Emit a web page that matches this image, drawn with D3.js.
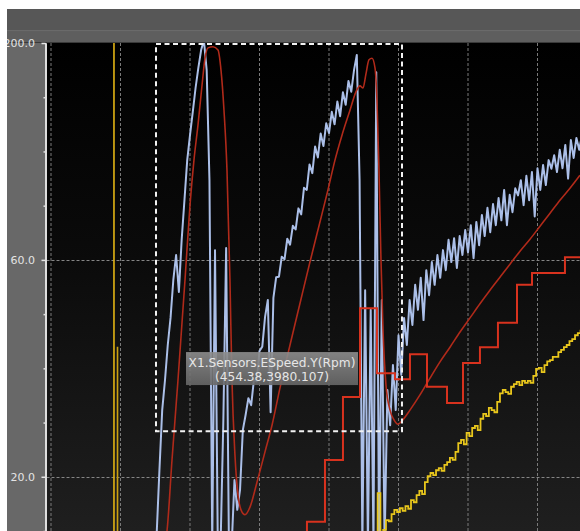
<!DOCTYPE html>
<html>
<head>
<meta charset="utf-8">
<script src="https://cdn.jsdelivr.net/npm/d3@7"></script>
<style>
  html, body { margin: 0; padding: 0; background: #ffffff; overflow: hidden; }
  svg { display: block; }
</style>
</head>
<body>
<svg id="chart" width="580" height="531"></svg>
<script>
// ---- logged channels -------------------------------------------------------
// Channels sampled on a fixed clock (time units per sample)
const sampleStep = 4;
const speedStart = 148;   // first sample time of the engine speed channel
const pedalStart = 466;   // first sample time of the pedal channel

// X1.Sensors.ESpeed.Y (light blue, noisy)
const speedValues = [
  107.4, 109.3, 121.2, 132.3, 137.8, 144.3, 149.3, 156.3, 160.9, 154.1,
  163.7, 171.0, 178.4, 183.0, 187.3, 191.7, 195.4, 198.7, 200.5, 195.0,
  174.7, 107.4, 161.8, 107.4, 107.4, 130.5, 162.2, 107.4, 107.4, 119.4,
  113.9, 117.6, 128.6, 131.4, 134.5, 133.2, 137.9, 137.6, 143.2, 144.0,
  149.5, 152.6, 131.9, 153.0, 156.8, 156.9, 160.6, 160.1, 163.9, 162.8,
  166.3, 165.6, 169.5, 168.4, 173.3, 172.9, 177.6, 176.0, 180.9, 178.9,
  183.3, 181.0, 185.2, 183.4, 187.3, 185.0, 189.2, 186.5, 190.9, 188.6,
  193.0, 191.0, 195.0, 197.8, 174.7, 107.4, 154.4, 107.4, 150.8, 107.4,
  194.6, 107.4, 152.6, 107.4, 136.0, 129.5, 140.6, 132.3, 146.1, 138.8,
  149.3, 144.3, 152.6, 148.0, 155.4, 150.8, 156.7, 148.9, 158.1, 153.5,
  159.6, 155.4, 160.9, 156.7, 161.8, 158.1, 163.7, 159.6, 164.0, 158.5,
  164.4, 160.9, 165.5, 161.4, 166.4, 160.3, 167.0, 162.7, 168.3, 164.4,
  169.6, 165.1, 170.3, 166.4, 171.4, 167.3, 172.9, 166.4, 172.0, 168.8,
  173.2, 171.9, 174.7, 170.1, 175.5, 171.0, 176.2, 168.0, 176.9, 172.9,
  177.5, 173.8, 178.4, 176.8, 179.3, 176.2, 180.3, 176.9, 181.2, 175.0,
  182.1, 178.8, 182.5, 180.3, 183.0
];

// Pedal channel (yellow staircase)
const pedalValues = [
  107.4, 117.0, 107.4, 110.2, 112.0, 111.8, 113.1, 113.9, 113.5, 114.2,
  113.7, 114.6, 114.1, 115.7, 115.3, 116.6, 117.4, 116.8, 119.0, 120.1,
  120.7, 120.3, 121.2, 121.6, 121.1, 122.2, 122.7, 123.5, 123.1, 124.6,
  126.2, 126.8, 126.0, 128.1, 127.5, 129.0, 129.4, 128.6, 130.7, 131.6,
  131.2, 132.7, 132.3, 131.9, 133.8, 135.4, 136.0, 135.6, 135.3, 136.6,
  137.1, 137.5, 136.9, 137.7, 137.3, 137.7, 137.3, 138.6, 139.9, 140.1,
  139.3, 140.6, 141.3, 141.5, 142.1, 142.1, 143.0, 143.4, 143.9, 144.3,
  145.0, 145.4, 146.1, 146.5, 147.1
];

// Filtered engine model (dark red smooth curve)
const modelTimes = [
  164.0, 166.9, 174.1, 182.7, 192.8, 200.0, 205.7, 211.5, 217.3, 221.6,
  225.9, 233.1, 240.3, 244.6, 248.9, 253.2, 257.5, 260.4, 264.7, 269.1,
  273.4, 279.1, 286.3, 296.4, 307.9, 318.0, 329.5, 343.9, 358.3, 372.6,
  387.0, 398.5, 408.6, 418.7, 430.2, 438.8, 444.6, 448.9, 453.2, 457.5,
  461.9, 466.2, 469.0, 471.9, 474.8, 477.7, 482.0, 487.8, 493.5, 499.3,
  505.0, 516.5, 530.9, 545.3, 559.7, 574.1, 588.5, 602.9, 617.2, 631.6,
  646.0, 660.4, 674.8, 689.2, 703.6, 718.0, 732.3, 746.7, 761.1
];
const modelValues = [
  107.4, 110.0, 123.1, 137.8, 156.3, 170.1, 178.4, 184.9, 192.2, 197.2,
  199.1, 199.3, 198.7, 195.0, 187.6, 176.6, 156.3, 137.8, 124.0, 116.6,
  113.9, 113.0, 114.4, 119.0, 124.6, 129.5, 136.4, 144.3, 152.0, 159.6,
  167.0, 172.9, 178.4, 183.0, 187.6, 191.0, 192.1, 191.7, 194.3, 196.9,
  197.2, 195.4, 189.5, 176.6, 160.0, 147.1, 136.9, 132.3, 130.5, 129.7,
  130.3, 132.3, 135.1, 138.2, 141.2, 143.9, 146.7, 149.3, 151.9, 154.4,
  156.8, 159.2, 161.6, 163.8, 166.2, 168.6, 171.0, 173.2, 175.6
];

// Set-point channel (bright red steps)
const setpointTimes = [
  343.9, 368.3, 394.2, 420.1, 444.6, 469.0, 494.9, 516.5, 541.0, 569.8,
  592.8, 617.2, 643.1, 670.5, 692.1, 739.5, 768.3
];
const setpointValues = [
  107.4, 111.7, 123.1, 134.7, 151.1, 139.1, 138.0, 142.6, 136.6, 133.6,
  141.0, 143.9, 148.4, 155.4, 157.6, 160.5, 160.5
];

// ---- axes, cursors, overlays ----------------------------------------------
const xGridTicks = [0, 100, 200, 300, 400, 500, 600, 700];
const yTickValues = [200, 160, 120];
const yTickLabels = ["200.0", "60.0", "20.0"];
const yMinorTicks = [190, 180, 170, 150, 140, 130, 110];
const cursorTimes = [90.6, 95.7];
const selectionBox = [151.1, 505.0, 128.4, 199.8];   // t0, t1, v0, v1
const tooltipAnchor = [318, 143.0];                   // centre time, top value
const tooltipLines = ["X1.Sensors.ESpeed.Y(Rpm)", "(454.38,3980.107)"];

// ---- layout ---------------------------------------------------------------
const W = 580, H = 531;
const plotLeft = 46.5, plotTop = 43, plotRight = 580, plotBottom = 531;

const x = d3.scaleLinear().domain([0, 700]).range([51, 537.5]);
const y = d3.scaleLinear().domain([110, 200]).range([531, 43]);

const svg = d3.select("#chart");
const defs = svg.append("defs");

const bg = defs.append("linearGradient").attr("id", "plotBg")
  .attr("x1", 0).attr("y1", 0).attr("x2", 0).attr("y2", 1);
bg.append("stop").attr("offset", "0%").attr("stop-color", "#000000");
bg.append("stop").attr("offset", "45%").attr("stop-color", "#0b0b0b");
bg.append("stop").attr("offset", "100%").attr("stop-color", "#1f1f1f");

const tipBg = defs.append("linearGradient").attr("id", "tipBg")
  .attr("x1", 0).attr("y1", 0).attr("x2", 0).attr("y2", 1);
tipBg.append("stop").attr("offset", "0%").attr("stop-color", "#8e8e8e");
tipBg.append("stop").attr("offset", "100%").attr("stop-color", "#676767");

defs.append("clipPath").attr("id", "plotClip")
  .append("rect").attr("x", plotLeft).attr("y", plotTop)
  .attr("width", plotRight - plotLeft).attr("height", plotBottom - plotTop);

defs.append("clipPath").attr("id", "panelClip")
  .append("rect").attr("x", 7).attr("y", 9).attr("width", W - 7).attr("height", H - 9);

// header strip
svg.append("rect").attr("x", 7).attr("y", 9).attr("width", W - 7).attr("height", 34).attr("fill", "#575757");
svg.append("rect").attr("x", 7).attr("y", 30).attr("width", W - 7).attr("height", 1.5).attr("fill", "#6a6a6a");
svg.append("rect").attr("x", 7).attr("y", 31.5).attr("width", W - 7).attr("height", 10.5).attr("fill", "#5e5e5e");
svg.append("rect").attr("x", 7).attr("y", 42).attr("width", W - 7).attr("height", 1).attr("fill", "#3a3a3a");

// value-axis panel
svg.append("rect").attr("x", 7).attr("y", 43).attr("width", 38).attr("height", H - 43).attr("fill", "#686868");

// plot background
svg.append("rect").attr("x", plotLeft).attr("y", plotTop)
  .attr("width", plotRight - plotLeft).attr("height", plotBottom - plotTop)
  .attr("fill", "url(#plotBg)");

const plot = svg.append("g").attr("clip-path", "url(#plotClip)");

// grid
plot.append("g").selectAll("line").data(xGridTicks).join("line")
  .attr("x1", d => x(d)).attr("x2", d => x(d))
  .attr("y1", plotTop).attr("y2", plotBottom)
  .attr("stroke", "#7a7a7a").attr("stroke-width", 1).attr("stroke-dasharray", "3,2");
plot.append("g").selectAll("line").data(yTickValues.slice(1)).join("line")
  .attr("x1", plotLeft).attr("x2", plotRight)
  .attr("y1", d => Math.round(y(d)) + 0.5).attr("y2", d => Math.round(y(d)) + 0.5)
  .attr("stroke", "#858585").attr("stroke-width", 1).attr("stroke-dasharray", "3,2");

// cursor markers
plot.append("g").selectAll("line").data(cursorTimes).join("line")
  .attr("x1", d => x(d)).attr("x2", d => x(d))
  .attr("y1", (d, i) => i === 0 ? plotTop : y(144)).attr("y2", plotBottom)
  .attr("stroke", (d, i) => i === 0 ? "#e2b414" : "#c9a012")
  .attr("stroke-width", 1.6);

// series
const speedData = speedValues.map((v, i) => [speedStart + i * sampleStep, v]);
const pedalData = pedalValues.map((v, i) => [pedalStart + i * sampleStep, v]);
const modelData = modelTimes.map((t, i) => [t, modelValues[i]]);
const setpointData = setpointTimes.map((t, i) => [t, setpointValues[i]]);

const lineLinear = d3.line().x(d => x(d[0])).y(d => y(d[1]));
const lineSmooth = d3.line().x(d => x(d[0])).y(d => y(d[1])).curve(d3.curveMonotoneX);
const lineStep = d3.line().x(d => x(d[0])).y(d => y(d[1])).curve(d3.curveStepAfter);

plot.append("path").datum(speedData).attr("d", lineLinear)
  .attr("fill", "none").attr("stroke", "#abbfe8").attr("stroke-width", 2)
  .attr("stroke-linejoin", "round");
plot.append("path").datum(modelData).attr("d", lineSmooth)
  .attr("fill", "none").attr("stroke", "#b02a1a").attr("stroke-width", 1.6);
plot.append("path").datum(setpointData).attr("d", lineStep)
  .attr("fill", "none").attr("stroke", "#d8321e").attr("stroke-width", 2);
plot.append("path").datum(pedalData).attr("d", lineStep)
  .attr("fill", "none").attr("stroke", "#e8c61c").attr("stroke-width", 1.8);

// zoom selection box
plot.append("rect")
  .attr("x", x(selectionBox[0])).attr("y", y(selectionBox[3]))
  .attr("width", x(selectionBox[1]) - x(selectionBox[0]))
  .attr("height", y(selectionBox[2]) - y(selectionBox[3]))
  .attr("fill", "none").attr("stroke", "#f2f2f2").attr("stroke-width", 2)
  .attr("stroke-dasharray", "5,3.5");

// value axis (labels clipped to the grey panel)
const axisWrap = svg.append("g").attr("clip-path", "url(#panelClip)");
const axisG = axisWrap.append("g").attr("transform", "translate(45.5,0)");
axisG.call(d3.axisLeft(y).tickValues(yTickValues)
  .tickFormat((d, i) => yTickLabels[i]).tickSize(4).tickSizeOuter(0).tickPadding(6.5));
axisG.select(".domain").attr("stroke", "#dedede").attr("stroke-width", 2);
axisG.selectAll(".tick line").attr("stroke", "#e6e6e6").attr("stroke-width", 1.5);
axisG.selectAll(".tick text")
  .attr("fill", "#e4e4e4").attr("font-family", "DejaVu Sans, sans-serif").attr("font-size", 11);

const minorG = svg.append("g").attr("transform", "translate(45.5,0)");
minorG.call(d3.axisLeft(y).tickValues(yMinorTicks).tickFormat("").tickSize(2).tickSizeOuter(0));
minorG.select(".domain").remove();
minorG.selectAll(".tick line").attr("stroke", "#e0e0e0").attr("stroke-width", 1.5);

// tooltip
const tipW = 172, tipH = 33;
const tipX = x(tooltipAnchor[0]) - tipW / 2;
const tipY = y(tooltipAnchor[1]);
const tip = svg.append("g");
tip.append("rect").attr("x", tipX).attr("y", tipY).attr("width", tipW).attr("height", tipH)
  .attr("fill", "url(#tipBg)").attr("opacity", 0.9);
tip.selectAll("text").data(tooltipLines).join("text")
  .attr("x", tipX + tipW / 2).attr("y", (d, i) => tipY + 14.5 + i * 14)
  .attr("text-anchor", "middle")
  .attr("font-family", "DejaVu Sans, sans-serif").attr("font-size", 12.2)
  .attr("fill", "#e6e6e6")
  .text(d => d);
</script>
</body>
</html>
